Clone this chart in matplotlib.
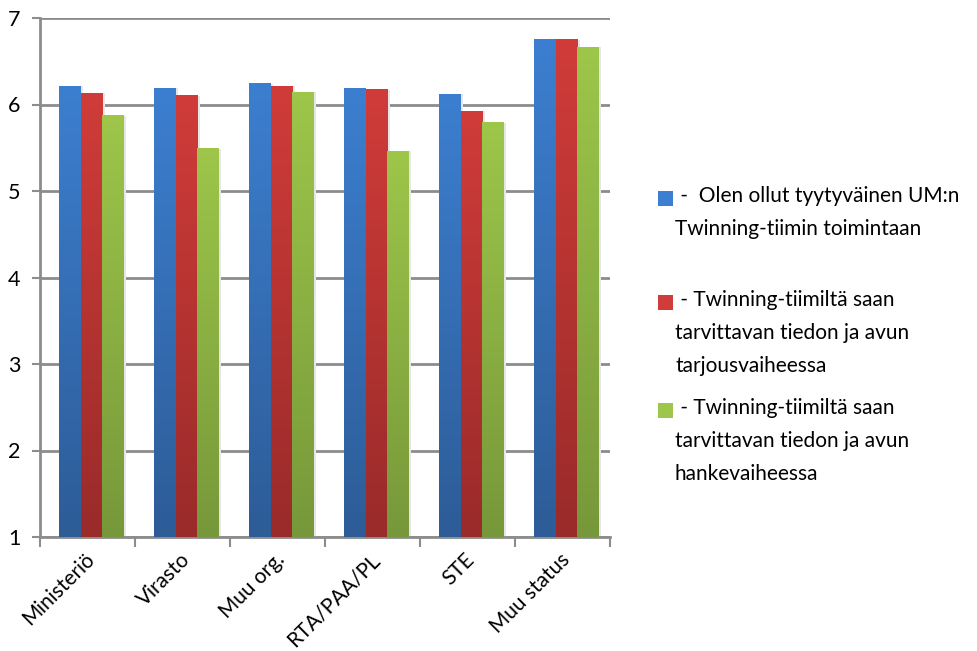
import matplotlib
matplotlib.use("Agg")
import matplotlib.pyplot as plt
import numpy as np
from matplotlib.colors import LinearSegmentedColormap
from matplotlib.patches import Rectangle
from matplotlib.transforms import ScaledTranslation

categories = ["Ministeriö", "Virasto", "Muu org.", "RTA/PAA/PL", "STE", "Muu status"]
series_names = [
    " -  Olen ollut tyytyväinen UM:n\nTwinning-tiimin toimintaan",
    " - Twinning-tiimiltä saan\ntarvittavan tiedon ja avun\ntarjousvaiheessa",
    " - Twinning-tiimiltä saan\ntarvittavan tiedon ja avun\nhankevaiheessa",
]
s1 = [6.21, 6.19, 6.24, 6.18, 6.12, 6.75]
s2 = [6.13, 6.10, 6.21, 6.17, 5.92, 6.75]
s3 = [5.87, 5.49, 6.14, 5.46, 5.79, 6.66]
yticks = [1, 2, 3, 4, 5, 6, 7]

top_colors = ["#3C7FD0", "#D03C39", "#9DC64A"]
bot_colors = ["#2D5C97", "#992B2A", "#77983A"]

plt.rcParams['font.family'] = ['Lato', 'DejaVu Sans']

fig = plt.figure(figsize=(9.77, 6.51), dpi=100)
ax = fig.add_axes([40/977, 1 - 537/651, (610-40)/977, (537-18)/651])

x = np.arange(len(categories))
w = 0.225
offsets = [-w + 0.04, 0.04, w + 0.04]
data = [s1, s2, s3]

for si, vals in enumerate(data):
    cmap = LinearSegmentedColormap.from_list("g%d" % si, [bot_colors[si], top_colors[si]])
    bars = ax.bar(x + offsets[si], np.array(vals) - 1, bottom=1, width=w,
                  color=top_colors[si], zorder=3, linewidth=0)
    for b in bars:
        x0, y0 = b.get_x(), b.get_y()
        bw, bh = b.get_width(), b.get_height()
        grad = np.linspace(0, 1, 256).reshape(-1, 1)
        ax.imshow(grad, cmap=cmap, origin="lower", aspect="auto",
                  extent=(x0, x0 + bw, y0, y0 + bh), zorder=4)
        ax.add_patch(Rectangle((x0 + bw, y0), 0.03, bh, color="#e6e6e6", zorder=2, lw=0))

ax.set_xlim(-0.5, len(categories) - 0.5)
ax.set_ylim(1, 7)

ax.set_yticks(yticks)
ax.set_yticklabels([str(t) for t in yticks], fontsize=15.5)
ax.yaxis.grid(True, color="#8c8c8c", linewidth=2, zorder=1)
ax.set_axisbelow(True)

ax.set_xticks(np.arange(len(categories) + 1) - 0.5, minor=False)
ax.set_xticklabels([])
ax.set_xticks(x, minor=True)
ax.set_xticklabels(categories, minor=True, rotation=45, ha="right",
                   rotation_mode="anchor", fontsize=15)
ax.tick_params(axis="x", which="major", length=7, width=1.5, color="#8c8c8c", direction="out")
ax.tick_params(axis="x", which="minor", length=0, pad=9)
ax.tick_params(axis="y", length=6, width=1.5, color="#8c8c8c", pad=8)
shift = ScaledTranslation(-3/100, 0, fig.dpi_scale_trans)
for lab in ax.get_xticklabels(minor=True):
    lab.set_transform(lab.get_transform() + shift)

for side in ["top", "right"]:
    ax.spines[side].set_visible(False)
for side in ["left", "bottom"]:
    ax.spines[side].set_color("#8c8c8c")
    ax.spines[side].set_linewidth(2)

legend_rows = [199, 303, 411]
for si, (label, yrow) in enumerate(zip(series_names, legend_rows)):
    sq = 15
    fig.patches.append(Rectangle((658/977, 1 - (yrow + sq/2 - 1)/651), sq/977, sq/651,
                                 transform=fig.transFigure, facecolor=top_colors[si],
                                 edgecolor="none"))
    fig.text(675/977, 1 - (yrow - 13)/651, label, fontsize=15, va="top", ha="left",
             linespacing=1.8)

fig.savefig("out.png", dpi=100)
